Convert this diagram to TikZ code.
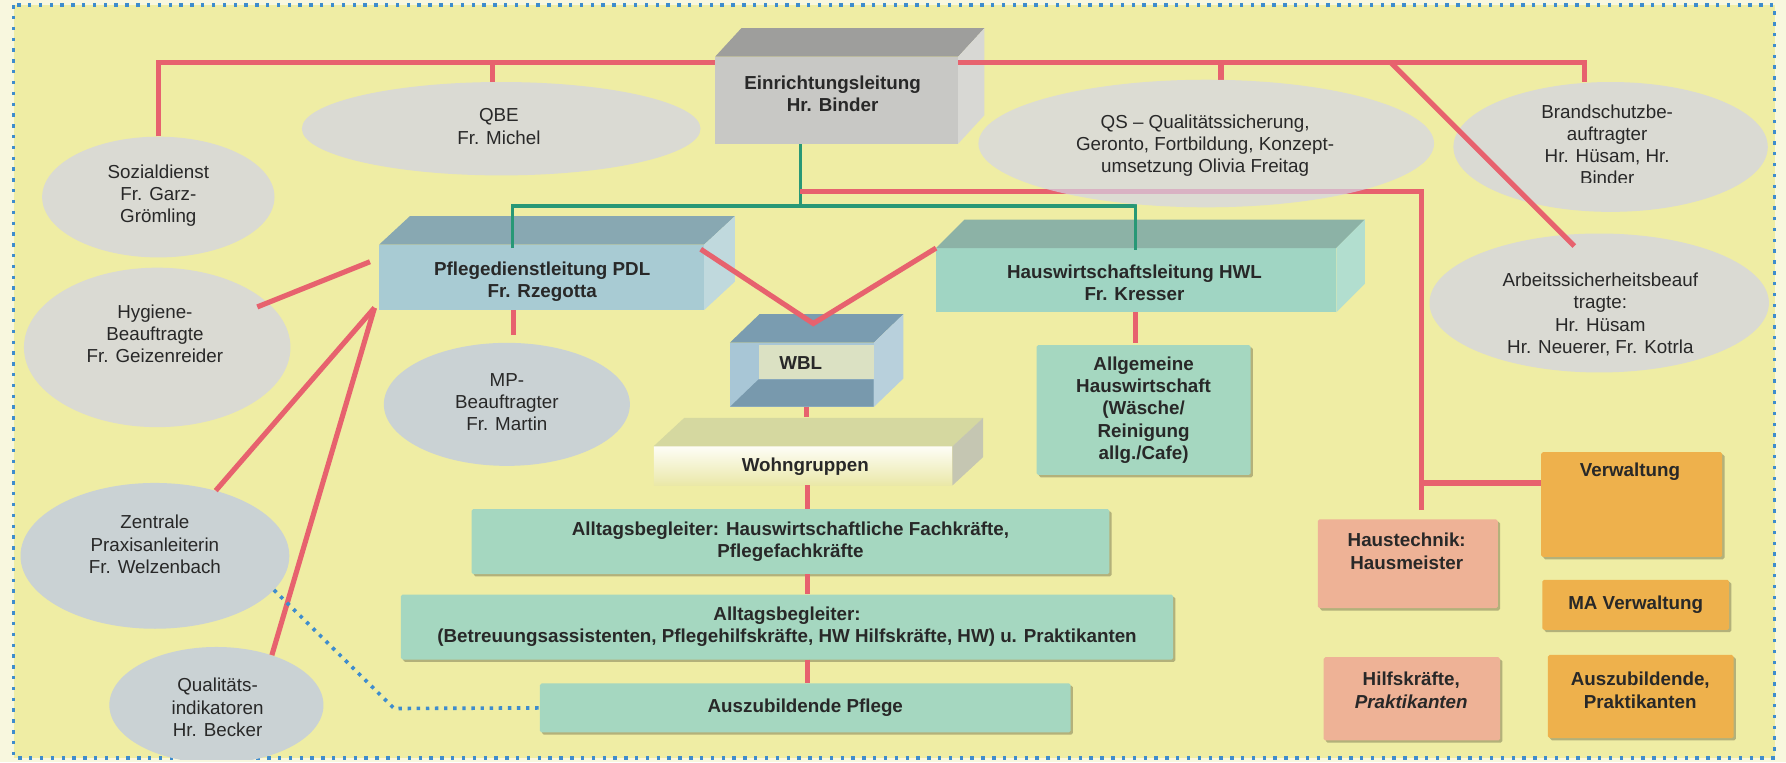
\documentclass[tikz,border=0pt]{standalone}
\usepackage{fontspec}
\setmainfont{Liberation Sans}
\usetikzlibrary{calc,shapes.geometric,shadows}
\pgfdeclarelayer{front}
\pgfsetlayers{main,front}
\definecolor{bgy}{RGB}{239,237,164}
\definecolor{bgout}{RGB}{248,247,222}
\definecolor{bordc}{RGB}{62,140,205}
\definecolor{lred}{RGB}{231,98,110}
\definecolor{lgrn}{RGB}{40,152,118}
\definecolor{egrey}{RGB}{218,218,211}
\definecolor{eblue}{RGB}{202,210,212}
\definecolor{qsfill}{RGB}{212,213,232}
\definecolor{einrF}{RGB}{200,200,197}
\definecolor{einrT}{RGB}{158,158,156}
\definecolor{einrS}{RGB}{216,216,212}
\definecolor{pdlF}{RGB}{168,203,211}
\definecolor{pdlT}{RGB}{136,168,178}
\definecolor{pdlS}{RGB}{192,217,221}
\definecolor{hwlF}{RGB}{160,213,195}
\definecolor{hwlT}{RGB}{140,178,166}
\definecolor{hwlS}{RGB}{178,222,207}
\definecolor{wblT}{RGB}{122,156,176}
\definecolor{wblF}{RGB}{168,198,214}
\definecolor{wblI}{RGB}{219,225,195}
\definecolor{wblL}{RGB}{120,153,173}
\definecolor{wblS}{RGB}{184,208,220}
\definecolor{wohT}{RGB}{213,216,160}
\definecolor{wohS}{RGB}{197,198,178}
\definecolor{wohB}{RGB}{234,232,168}
\definecolor{mint}{RGB}{165,215,192}
\definecolor{salm}{RGB}{238,178,150}
\definecolor{oran}{RGB}{238,177,76}
\definecolor{txt}{RGB}{40,40,40}
\newcommand\cubefaces[4]{%
  \fill[#2] (#1.north west) -- ++(#4,-25) -- ($(#1.north east)+(#4,-25)$) -- (#1.north east) -- cycle;
  \fill[#3] (#1.north east) -- ++(#4,-25) -- ($(#1.south east)+(#4,-25)$) -- (#1.south east) -- cycle;}
\tikzset{
  ell/.style={ellipse, inner sep=0pt, fill=#1},
  rtxt/.style={font=\fontsize{16.5}{19.5}\selectfont, align=center, text=txt, inner sep=0pt},
  btxt/.style={font=\fontsize{16.5}{19.5}\selectfont\bfseries, align=center, text=txt, inner sep=0pt},
  face/.style={rectangle, inner sep=0pt, fill=#1, font=\fontsize{16.5}{19.5}\selectfont\bfseries, align=center, text=txt},
  flat/.style={rectangle, rounded corners=1.5pt, inner sep=0pt, fill=#1, font=\fontsize{16.5}{19.5}\selectfont\bfseries, align=center, text=txt,
    drop shadow={shadow xshift=2pt, shadow yshift=-2pt, opacity=0.25, fill=black}},
  redl/.style={draw=lred, line width=4.5pt},
  grnl/.style={draw=lgrn, line width=3pt},
  blud/.style={draw=bordc, line width=3.2pt, line cap=butt, dash pattern=on 3pt off 5pt},
  bord/.style={draw=bordc, line width=3pt, line cap=butt, dash pattern=on 3pt off 6.5pt},
}
\begin{document}
\begin{tikzpicture}[x=1pt,y=-1pt]
\useasboundingbox (0,0) rectangle (1568,669);
\fill[bgout] (0,0) rectangle (1568,669);
\fill[bgy] (12,4.5) rectangle (1558,665.5);
\draw[bord] (12,4.5) rectangle (1558,665.5);

% ---------- front layer: top box and QS ellipse
\begin{pgfonlayer}{front}
  \node[face=einrF, minimum width=213pt, minimum height=76pt] (einr) at (734.5,88) {};
  \node[btxt] (einr-t) at (731,82) {Einrichtungsleitung\\Hr. Binder};
  \node[ell=qsfill, fill opacity=0.7, minimum width=400pt, minimum height=112pt] (qs) at (1059,126) {};
  \node[rtxt] (qs-t) at (1058,128) {QS – Qualitätssicherung,\\Geronto, Fortbildung, Konzept-\\umsetzung Olivia Freitag};
\end{pgfonlayer}

% ---------- ellipses
\node[ell=egrey, minimum width=204pt, minimum height=106pt] (soz) at (139,173) {};
\node[rtxt] (soz-t) at (139,172) {Sozialdienst\\Fr. Garz-\\Grömling};
\node[ell=egrey, minimum width=350pt, minimum height=82pt] (qbe) at (440,113) {};
\node[rtxt] (qbe-t) at (438,111) {QBE\\Fr. Michel};
\node[ell=egrey, minimum width=276pt, minimum height=114pt] (brand) at (1414,129) {};
\begin{scope}
  \clip (1270,60) rectangle (1560,160);
  \node[rtxt] (brand-t) at (1411,127) {Brandschutzbe-\\auftragter\\Hr. Hüsam, Hr.\\Binder};
\end{scope}
\node[ell=egrey, minimum width=298pt, minimum height=122pt] (asb) at (1404,266) {};
\node[rtxt] (asb-t) at (1405,276) {Arbeitssicherheitsbeauf\\tragte:\\Hr. Hüsam\\Hr. Neuerer, Fr. Kotrla};
\node[ell=egrey, minimum width=234pt, minimum height=140pt] (hyg) at (138,305) {};
\node[rtxt] (hyg-t) at (136,293) {Hygiene-\\Beauftragte\\Fr. Geizenreider};
\node[ell=eblue, minimum width=216pt, minimum height=108pt] (mp) at (445,355) {};
\node[rtxt] (mp-t) at (445,353) {MP-\\Beauftragter\\Fr. Martin};
\node[ell=eblue, minimum width=236pt, minimum height=128pt] (zpa) at (136,488) {};
\node[rtxt] (zpa-t) at (136,478) {Zentrale\\Praxisanleiterin\\Fr. Welzenbach};
\begin{scope}
  \clip (12,4.5) rectangle (1558,667);
  \node[ell=eblue, minimum width=188pt, minimum height=102pt] (qual) at (190,619) {};
\end{scope}
\node[rtxt] (qual-t) at (191,621) {Qualitäts-\\indikatoren\\Hr. Becker};

% ---------- 3D boxes
\cubefaces{einr}{einrT}{einrS}{23}
\node[face=pdlF, minimum width=285pt, minimum height=57pt] (pdl) at (475.5,243.5) {};
\node[btxt] (pdl-t) at (476,247) {Pflegedienstleitung PDL\\Fr. Rzegotta};
\cubefaces{pdl}{pdlT}{pdlS}{27}
\node[face=hwlF, minimum width=351pt, minimum height=56pt] (hwl) at (997.5,246) {};
\node[btxt] (hwl-t) at (996,248) {Hauswirtschaftsleitung HWL\\Fr. Kresser};
\cubefaces{hwl}{hwlT}{hwlS}{25}
\node[face=wblF, minimum width=126pt, minimum height=56pt] (wbl) at (704,329) {};
\cubefaces{wbl}{wblT}{wblS}{26}
\fill[wblI] (666,303) rectangle (767,333);
\fill[wblL] (666,333) -- (767,333) -- (767,357) -- (641,357) -- cycle;
\node[btxt] (wbl-t) at (703,319) {WBL};
\node[rectangle, inner sep=0pt, top color=white!90!bgy, bottom color=wohB, minimum width=262pt, minimum height=34pt] (wohn) at (705,409) {};
\cubefaces{wohn}{wohT}{wohS}{27}
\node[btxt] (wohn-t) at (707,410) {Wohngruppen};

% ---------- flat boxes
\node[flat=mint, minimum width=188pt, minimum height=114pt] (allg) at (1004,360) {Allgemeine\\Hauswirtschaft\\(Wäsche/\\Reinigung\\allg./Cafe)};
\node[flat=mint, minimum width=560pt, minimum height=57pt] (a1) at (694,475.5) {Alltagsbegleiter: Hauswirtschaftliche Fachkräfte,\\Pflegefachkräfte};
\node[flat=mint, minimum width=678pt, minimum height=57pt] (a2) at (691,550.5) {Alltagsbegleiter:\\(Betreuungsassistenten, Pflegehilfskräfte, HW Hilfskräfte, HW) u. Praktikanten};
\node[flat=mint, minimum width=466pt, minimum height=43pt] (azp) at (707,621.5) {Auszubildende Pflege};
\node[flat=oran, minimum width=159pt, minimum height=92pt] (verw) at (1432.5,443) {};
\node[btxt] (verw-t) at (1431,414) {Verwaltung};
\node[flat=salm, minimum width=158pt, minimum height=78pt] (haus) at (1236,495) {};
\node[btxt] (haus-t) at (1235,484) {Haustechnik:\\Hausmeister};
\node[flat=oran, minimum width=164pt, minimum height=44pt] (mav) at (1436,531) {MA Verwaltung};
\node[flat=salm, minimum width=155pt, minimum height=73pt] (hilf) at (1239.5,613.5) {};
\node[btxt] (hilf-t) at (1239,606) {Hilfskräfte,\\\textit{Praktikanten}};
\node[flat=oran, minimum width=163pt, minimum height=73pt] (azb) at (1440.5,611.5) {};
\node[btxt] (azb-t) at (1440,606) {Auszubildende,\\Praktikanten};

% ---------- connectors
\coordinate (jtr) at (1391,55);
\coordinate (jq) at (432,55);
\coordinate (jqs) at (1072,55);
\coordinate (jd) at (1221,55);
\draw[redl] (soz.north) |- (jtr) -- (jtr |- brand.north);
\draw[redl] (jq) -- (jq |- qbe.north);
\draw[redl] (jqs) -- (jqs |- qs.north);
\draw[redl, shorten >=-14pt] (jd) -- (asb.118);

\coordinate (jg) at (703,181);
\coordinate (jpl) at (450,181);
\coordinate (jhw) at (997,181);
\draw[grnl] (einr.south -| jg) -- (jg);
\draw[grnl] ($(pdl.north -| jpl)+(0,3)$) -- (jpl) -- (jhw) -- ($(hwl.north -| jhw)+(0,2)$);

\coordinate (jr) at (702,168);
\coordinate (jr2) at (1248,168);
\coordinate (jv) at (1248,424);
\draw[redl, shorten >=8pt] (jr) -- (jr2) -- (jr2 |- haus.north);
\draw[redl] (jv) -- (jv -| verw.west);

\coordinate (wv) at (714,284);
\draw[redl] ($(pdl.north east)+(-3,4)$) -- (wv) -- (hwl.north west);

\coordinate (jmp) at (451,0);
\draw[redl, shorten >=7pt] (pdl.south -| jmp) -- (mp.north -| jmp);
\draw[redl, shorten >=2pt] (hwl.south -| jhw) -- (allg.north -| jhw);

\coordinate (jx) at (708,0);
\coordinate (jy) at (709,0);
\draw[redl] (wbl.south -| jx) -- ($(wohn.north -| jx)+(0,-26)$);
\draw[redl] (wohn.south -| jy) -- (a1.north -| jy);
\draw[redl] (a1.south -| jy) -- (a2.north -| jy);
\draw[redl] (a2.south -| jy) -- (azp.north -| jy);

\draw[redl, shorten <=-10pt] (hyg.22) -- ($(pdl.north west)+(-8,15)$);
\draw[redl] ($(pdl.south west)+(-4,-2)$) -- (zpa.47);
\draw[redl] ($(pdl.south west)+(-4,-2)$) -- (qual.42);

\coordinate (bd) at (346,622);
\draw[blud] (zpa.-16) -- (bd) -- (azp.west);
\end{tikzpicture}
\end{document}
